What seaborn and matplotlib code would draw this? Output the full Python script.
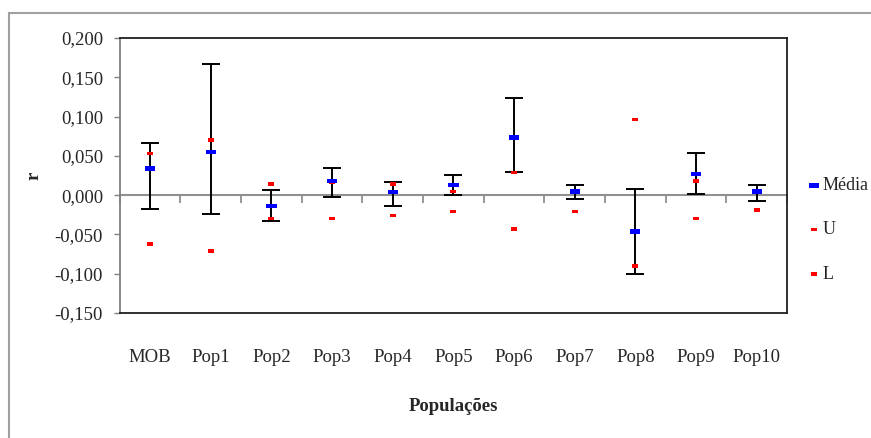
import numpy as np
import pandas as pd
import matplotlib
matplotlib.use("Agg")
import matplotlib.pyplot as plt
from matplotlib.path import Path
from matplotlib.patches import Rectangle
from matplotlib.ticker import FuncFormatter
import seaborn as sns

# Correlation estimates per population with their intervals
populacoes = ["MOB", "Pop1", "Pop2", "Pop3", "Pop4", "Pop5",
              "Pop6", "Pop7", "Pop8", "Pop9", "Pop10"]
media = [0.034, 0.055, -0.014, 0.018, 0.004, 0.013, 0.073, 0.005, -0.046, 0.027, 0.005]
barra_sup = [0.067, 0.167, 0.006, 0.035, 0.017, 0.026, 0.124, 0.013, 0.008, 0.054, 0.013]
barra_inf = [-0.018, -0.024, -0.033, -0.002, -0.014, 0.000, 0.029, -0.005, -0.100, 0.002, -0.007]
lim_u = [0.053, 0.070, 0.014, 0.016, 0.014, 0.005, 0.029, 0.003, 0.096, 0.018, 0.003]
lim_l = [-0.062, -0.071, -0.030, -0.030, -0.026, -0.021, -0.043, -0.021, -0.090, -0.030, -0.019]

yticks = [-0.150, -0.100, -0.050, 0.000, 0.050, 0.100, 0.150, 0.200]

df = pd.DataFrame({"Populações": populacoes, "Média": media,
                   "sup": barra_sup, "inf": barra_inf, "U": lim_u, "L": lim_l})
df["x"] = np.arange(len(df))

sns.set_style("white")
plt.rcParams["font.family"] = ["Liberation Serif", "DejaVu Serif"]
plt.rcParams["font.size"] = 13

fig = plt.figure(figsize=(8.71, 4.38), dpi=100)
W, H = 871, 438
ax = fig.add_axes([119.7 / W, 1 - 313 / H, (787 - 119.7) / W, (313 - 38) / H])

# flat rectangular markers
def rect_marker(h):
    return Path([(-1, -h), (1, -h), (1, h), (-1, h), (-1, -h)],
                [Path.MOVETO, Path.LINETO, Path.LINETO, Path.LINETO, Path.CLOSEPOLY])

big = rect_marker(0.45)
small = rect_marker(0.55)

# error bars
yerr = np.vstack([df["Média"] - df["inf"], df["sup"] - df["Média"]])
ax.errorbar(df["x"], df["Média"], yerr=yerr, fmt="none", ecolor="black",
            elinewidth=1.4, capsize=6.5, capthick=1.4, zorder=2)

sns.scatterplot(data=df, x="x", y="Média", marker=big, s=55, color="#0000FF",
                edgecolor="none", linewidth=0, ax=ax, label="Média", zorder=4)
sns.scatterplot(data=df, x="x", y="U", marker=small, s=19, color="#FF0000",
                edgecolor="none", linewidth=0, ax=ax, label="U", zorder=3)
sns.scatterplot(data=df, x="x", y="L", marker=small, s=19, color="#FF0000",
                edgecolor="none", linewidth=0, ax=ax, label="L", zorder=3)

ax.set_xlim(-0.5, len(df) - 0.5)
ax.set_ylim(-0.150, 0.200)
ax.set_yticks(yticks)
ax.yaxis.set_major_formatter(FuncFormatter(lambda v, p: f"{v:.3f}".replace(".", ",")))
ax.set_xticks(df["x"])
ax.set_xticklabels(populacoes)

ax.tick_params(axis="x", length=0, pad=26, labelsize=13.5)
ax.tick_params(axis="y", left=True, length=4, width=1, color="#808080",
               direction="out", pad=8, labelsize=13.5)

for side in ["top", "right", "bottom"]:
    ax.spines[side].set_color("#202020")
    ax.spines[side].set_linewidth(1.3)
ax.spines["left"].set_color("#808080")
ax.spines["left"].set_linewidth(1.3)

ax.set_xlabel("Populações", fontsize=13.5, fontweight="bold", labelpad=23)
ax.set_ylabel("r", fontsize=13.5, fontweight="bold", labelpad=9)

# category axis crossing at zero with boundary tick marks
y0, y1 = ax.get_ylim()
sec = ax.secondary_xaxis((0 - y0) / (y1 - y0))
sec.set_xticks(np.arange(-0.5, len(df), 1.0))
sec.tick_params(axis="x", length=6, width=1.3, color="#909090",
                direction="out", labelbottom=False)
sec.spines["bottom"].set_color("#909090")
sec.spines["bottom"].set_linewidth(1.5)

ax.get_legend().remove()
handles, labels = ax.get_legend_handles_labels()
fig.legend(handles, labels, loc="center left", bbox_to_anchor=(807 / W, 1 - 230 / H),
           frameon=False, borderpad=0, borderaxespad=0, handlelength=0.8,
           handletextpad=0.05, labelspacing=1.5, fontsize=13, scatterpoints=1)

# chart area border
fig.patches.append(Rectangle((9 / W, -0.2), 1.5, 1 - 13 / H + 0.2,
                             transform=fig.transFigure, fill=False,
                             edgecolor="#A0A0A0", linewidth=1.5))

fig.savefig("out.png", dpi=100)
